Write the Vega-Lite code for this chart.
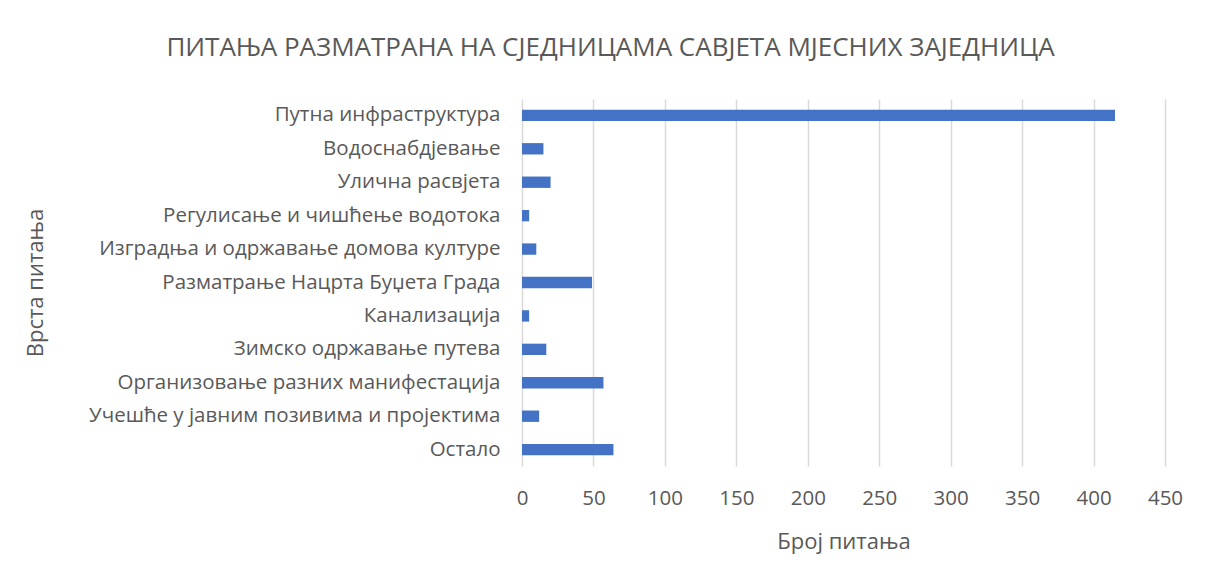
{
  "$schema": "https://vega.github.io/schema/vega-lite/v6.json",
  "width": 643,
  "height": 367,
  "autosize": "none",
  "padding": {"left": 522, "top": 99, "right": 43, "bottom": 114},
  "background": "white",
  "title": {
    "text": "ПИТАЊА РАЗМАТРАНА НА СЈЕДНИЦАМА САВЈЕТА МЈЕСНИХ ЗАЈЕДНИЦА",
    "anchor": "middle",
    "frame": "group",
    "dx": -233,
    "offset": 38,
    "font": "Open Sans",
    "fontSize": 26,
    "fontWeight": "normal",
    "color": "#595959"
  },
  "data": {
    "values": [
      {"cat": "Путна инфраструктура", "n": 415},
      {"cat": "Водоснабдјевање", "n": 15},
      {"cat": "Улична расвјета", "n": 20},
      {"cat": "Регулисање и чишћење водотока", "n": 5},
      {"cat": "Изградња и одржавање домова културе", "n": 10},
      {"cat": "Разматрање Нацрта Буџета Града", "n": 49},
      {"cat": "Канализација", "n": 5},
      {"cat": "Зимско одржавање путева", "n": 17},
      {"cat": "Организовање разних манифестација", "n": 57},
      {"cat": "Учешће у јавним позивима и пројектима", "n": 12},
      {"cat": "Остало", "n": 64}
    ]
  },
  "mark": {"type": "bar", "color": "#4472C4"},
  "encoding": {
    "y": {
      "field": "cat",
      "type": "nominal",
      "sort": null,
      "scale": {"paddingInner": 0.66, "paddingOuter": 0.32},
      "axis": {
        "title": "Врста питања",
        "domain": false,
        "ticks": false,
        "labelPadding": 22,
        "labelFont": "Open Sans",
        "labelFontSize": 20.5,
        "labelColor": "#595959",
        "labelLimit": 520,
        "titleFont": "Open Sans",
        "titleFontSize": 22,
        "titleFontWeight": "normal",
        "titleColor": "#595959",
        "titleX": -487,
        "titleY": 183.5,
        "titleAngle": -90,
        "titleAlign": "center",
        "titleBaseline": "middle"
      }
    },
    "x": {
      "field": "n",
      "type": "quantitative",
      "scale": {"domain": [0, 450], "nice": false},
      "axis": {
        "title": "Број питања",
        "values": [0, 50, 100, 150, 200, 250, 300, 350, 400, 450],
        "domain": false,
        "ticks": false,
        "grid": true,
        "gridColor": "#d9d9d9",
        "gridWidth": 1.5,
        "labelFlush": false,
        "labelOverlap": false,
        "labelPadding": 32,
        "labelBaseline": "middle",
        "labelFont": "Open Sans",
        "labelFontSize": 20.5,
        "labelColor": "#595959",
        "titleFont": "Open Sans",
        "titleFontSize": 22,
        "titleFontWeight": "normal",
        "titleColor": "#595959",
        "titleY": 75,
        "titleBaseline": "middle"
      }
    }
  },
  "config": {"view": {"stroke": null}}
}
